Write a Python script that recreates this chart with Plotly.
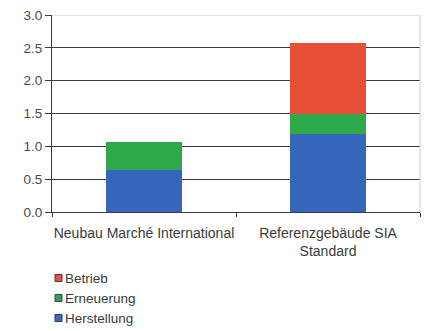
import plotly.graph_objects as go

categories = ["Neubau Marché International", "Referenzgebäude SIA<br>Standard"]
herstellung = [0.64, 1.19]
erneuerung = [0.42, 0.30]
betrieb = [0.0, 1.09]
ytickvals = [0, 0.5, 1.0, 1.5, 2.0, 2.5, 3.0]
yticktext = ["0.0", "0.5", "1.0", "1.5", "2.0", "2.5", "3.0"]
legend_names = ["Betrieb", "Erneuerung", "Herstellung"]

colors = {"Herstellung": "#3566BC", "Erneuerung": "#2FA84B", "Betrieb": "#E94F37"}
legend_fill = {"Herstellung": "#4468B0", "Erneuerung": "#3C9A55", "Betrieb": "#D9534A"}
legend_line = {"Herstellung": "#22386A", "Erneuerung": "#225A32", "Betrieb": "#7A2A24"}

fig = go.Figure()
fig.add_bar(name="Herstellung", x=categories, y=herstellung, marker_color=colors["Herstellung"], marker_line_width=0)
fig.add_bar(name="Erneuerung", x=categories, y=erneuerung, marker_color=colors["Erneuerung"], marker_line_width=0)
fig.add_bar(name="Betrieb", x=categories, y=betrieb, marker_color=colors["Betrieb"], marker_line_width=0)

font_fam = "Liberation Sans, Arial, sans-serif"
fig.update_layout(
    barmode="stack",
    width=425, height=331,
    margin=dict(l=52, r=5, t=15, b=119),
    paper_bgcolor="white", plot_bgcolor="white",
    bargap=0.59,
    font=dict(family=font_fam, size=12, color="#3a3a3a"),
    showlegend=False,
)
fig.update_yaxes(range=[0, 3.0], tickvals=ytickvals, ticktext=yticktext,
                 showgrid=True, gridcolor="#3a3a3a", gridwidth=1,
                 showline=True, linecolor="#3a3a3a", linewidth=1,
                 ticks="outside", ticklen=6, tickcolor="#3a3a3a", zeroline=False,
                 automargin=False,
                 tickfont=dict(size=13.5, color="#4a4a4a"))
fig.update_xaxes(showline=True, linecolor="#3a3a3a", linewidth=1,
                 ticks="outside", tickson="boundaries", ticklen=4, tickcolor="#3a3a3a",
                 ticklabelstandoff=8, tickangle=0, automargin=False,
                 tickfont=dict(size=14, color="#3a3a3a"))
fig.add_shape(type="line", xref="paper", yref="y", x0=0, x1=1, y0=3.0, y1=3.0,
              line=dict(color="#c8c8c8", width=1), layer="above")
fig.add_shape(type="line", xref="paper", yref="paper", x0=1, x1=1, y0=0, y1=1,
              line=dict(color="#d0d0d0", width=1), layer="above")

# manual legend (compact squares next to text)
plot_h = 331 - 15 - 119
for i, name in enumerate(legend_names):
    ypix = 278 + 20 * i
    yp = (212 - ypix) / plot_h
    fig.add_shape(type="rect", xref="paper", yref="paper",
                  xsizemode="pixel", ysizemode="pixel",
                  xanchor=0, yanchor=yp, x0=3, x1=10, y0=-3.5, y1=3.5,
                  fillcolor=legend_fill[name], line=dict(color=legend_line[name], width=1))
    fig.add_annotation(xref="paper", yref="paper", x=11 / 368, y=yp,
                       xanchor="left", yanchor="middle", showarrow=False,
                       text=name, font=dict(size=13.5, color="#3a3a3a"))

fig.write_html("out.html")
